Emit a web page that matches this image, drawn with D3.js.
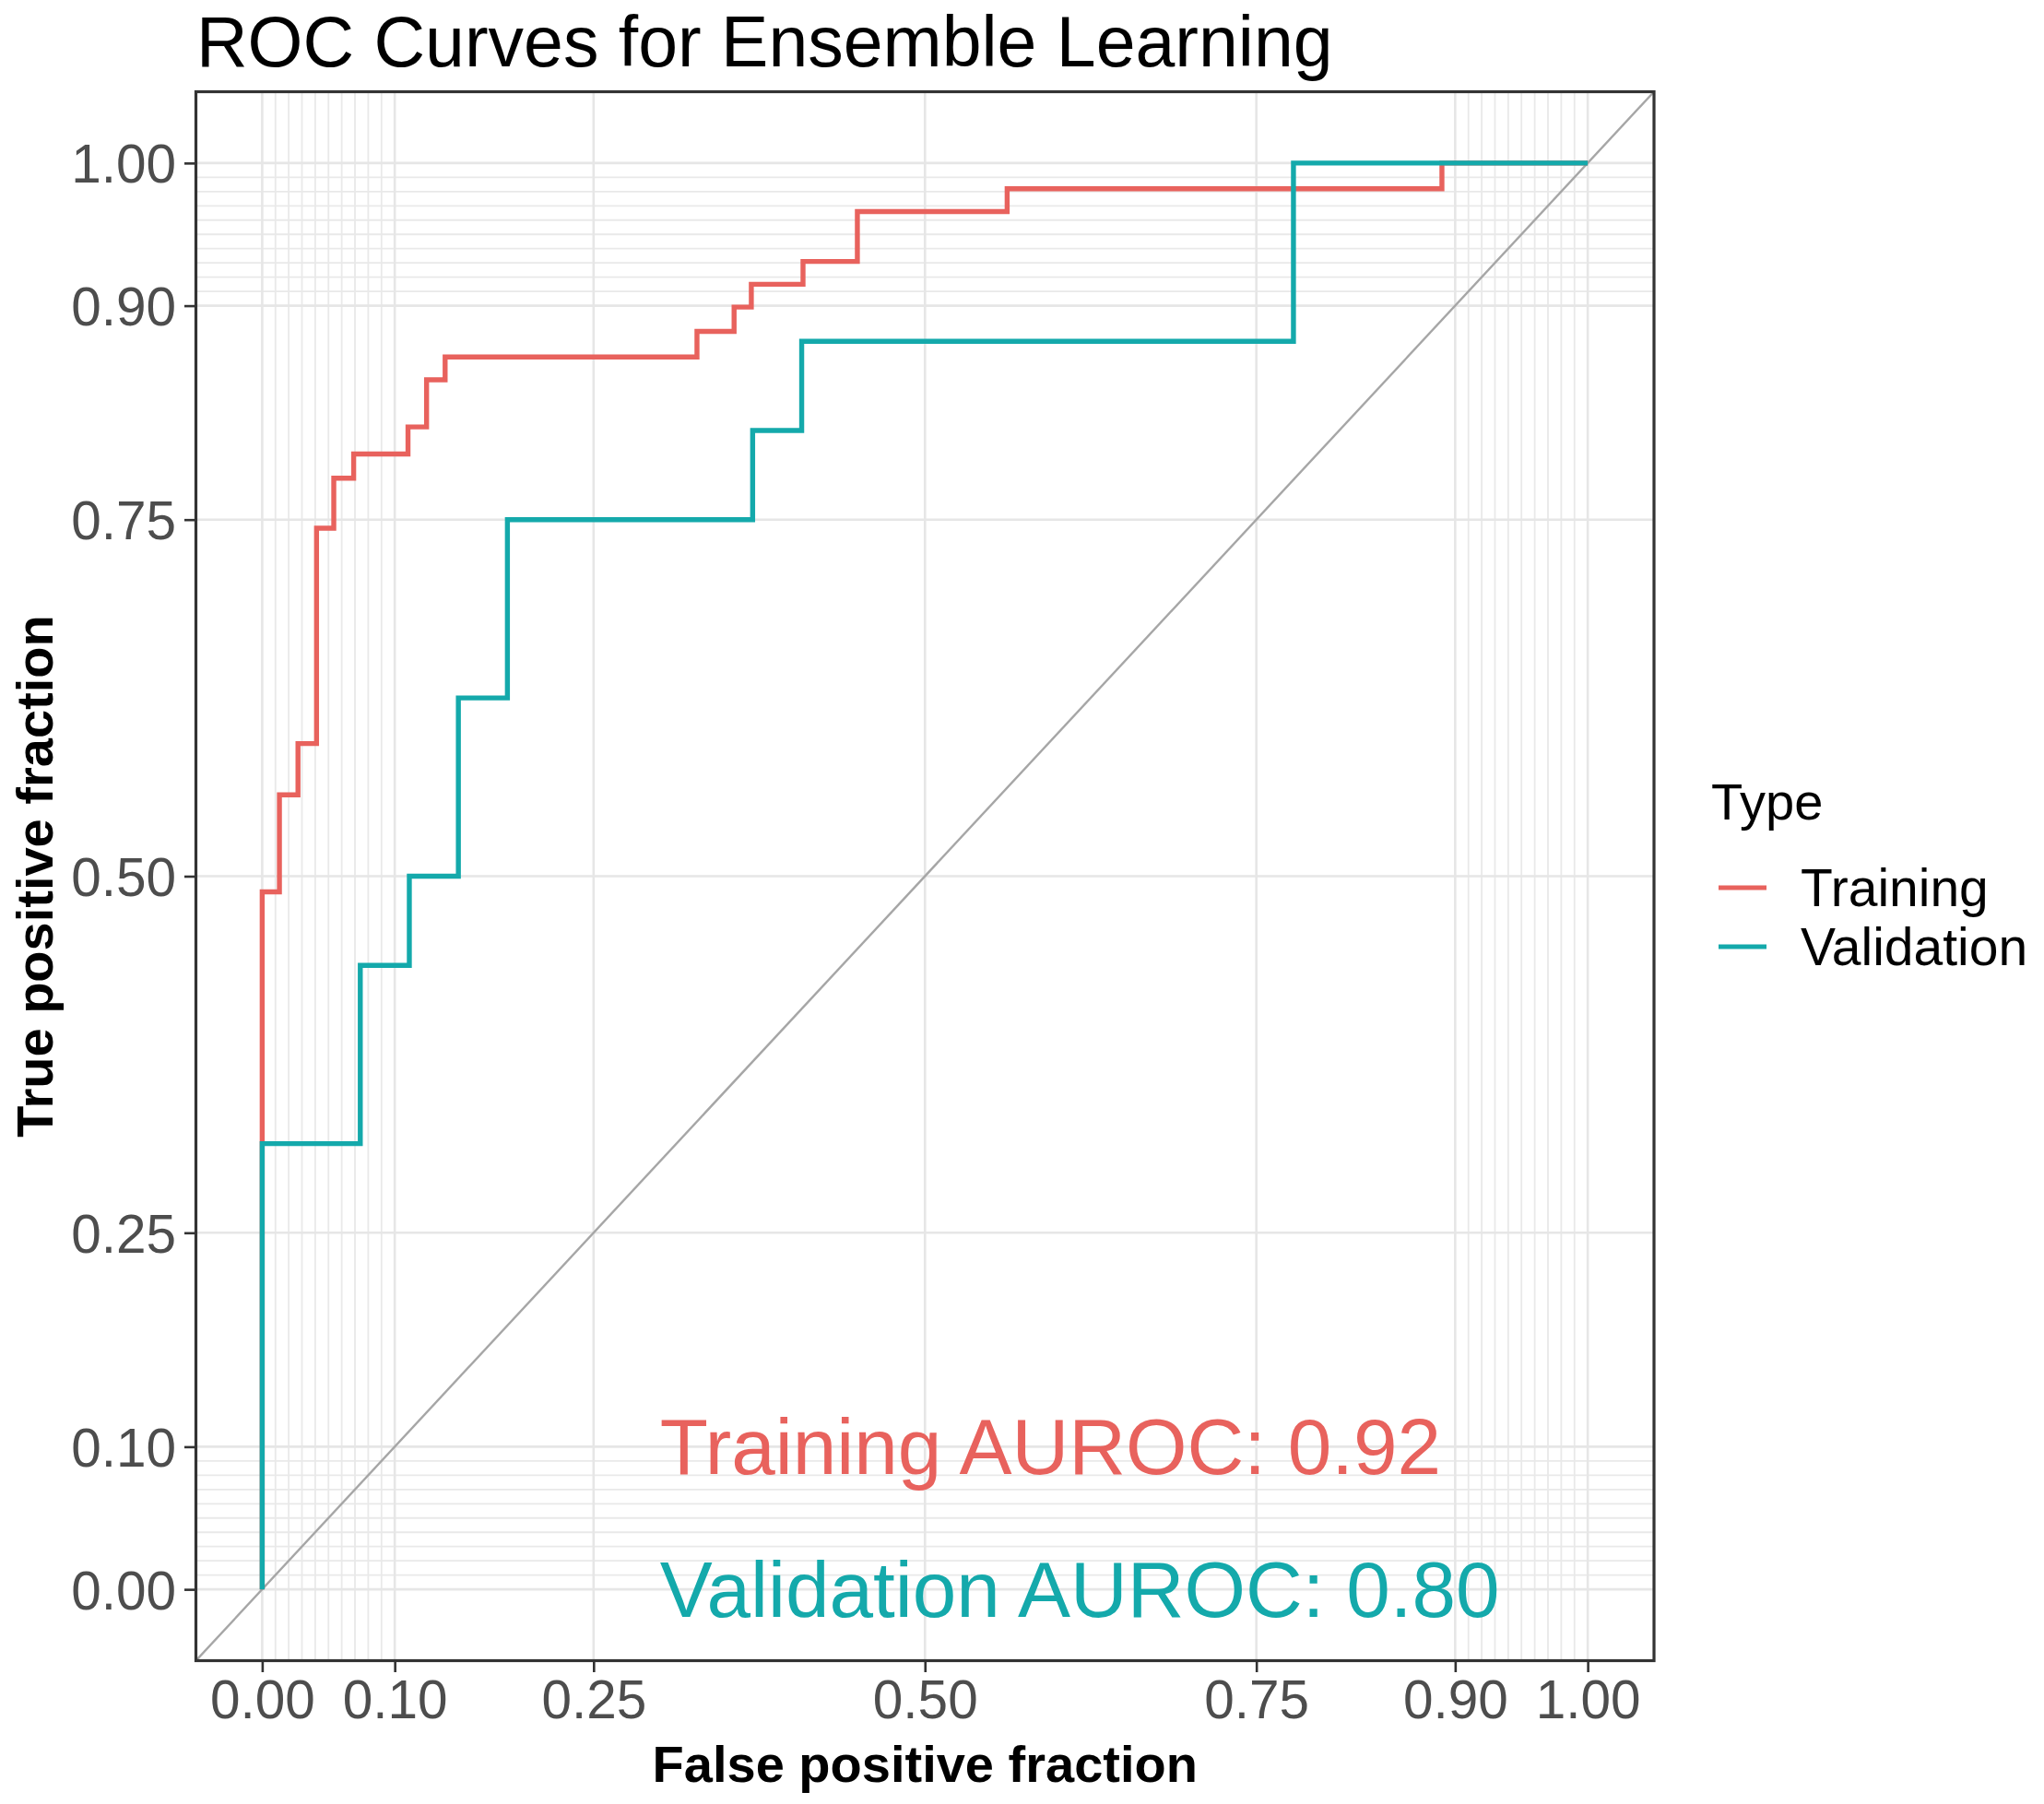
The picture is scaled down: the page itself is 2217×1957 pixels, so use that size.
<!DOCTYPE html>
<html>
<head>
<meta charset="utf-8">
<script src="https://cdn.jsdelivr.net/npm/d3@7"></script>
<style>
  html, body { margin: 0; padding: 0; background: #fff; }
  text { font-family: "Liberation Sans", Arial, sans-serif; }
</style>
</head>
<body>
<svg id="chart" width="2217" height="1957"></svg>
<script>
// ---------------- data ----------------
const seriesNames = ["Training", "Validation"];
const seriesColors = ["#E8625D", "#14A9AB"];

const trainingFPR = [0, 0, 0.013, 0.027, 0.041, 0.054, 0.069, 0.110, 0.124, 0.138, 0.328, 0.356, 0.369, 0.408, 0.449, 0.562, 0.890, 1.0];
const trainingTPR = [0, 0.489, 0.557, 0.593, 0.744, 0.779, 0.796, 0.815, 0.848, 0.864, 0.882, 0.899, 0.915, 0.931, 0.966, 0.982, 1.0, 1.0];

const validationFPR = [0, 0, 0.074, 0.111, 0.148, 0.185, 0.370, 0.407, 0.778, 1.0];
const validationTPR = [0, 0.3125, 0.4375, 0.5, 0.625, 0.75, 0.8125, 0.875, 1.0, 1.0];

const majorBreaks = [0, 0.1, 0.25, 0.5, 0.75, 0.9, 1];
const majorLabels = ["0.00", "0.10", "0.25", "0.50", "0.75", "0.90", "1.00"];
const minorBreaks = [0.01, 0.02, 0.03, 0.04, 0.05, 0.06, 0.07, 0.08, 0.09,
                     0.91, 0.92, 0.93, 0.94, 0.95, 0.96, 0.97, 0.98, 0.99];

const annotations = [
  { text: "Training AUROC: 0.92", x: 0.30, y: 0.10, series: 0 },
  { text: "Validation AUROC: 0.80", x: 0.30, y: 0.00, series: 1 }
];

const titleText = "ROC Curves for Ensemble Learning";
const xTitle = "False positive fraction";
const yTitle = "True positive fraction";
const legendTitle = "Type";

// ---------------- layout ----------------
const svg = d3.select("#chart");
const panel = { left: 212.5, right: 1794, top: 99.5, bottom: 1801.5 };

const x = d3.scaleLinear().domain([-0.05, 1.05]).range([panel.left, panel.right]);
const y = d3.scaleLinear().domain([-0.05, 1.05]).range([panel.bottom, panel.top]);

svg.append("rect").attr("width", 2217).attr("height", 1957).attr("fill", "#fff");

svg.append("defs").append("clipPath").attr("id", "clip")
  .append("rect")
  .attr("x", panel.left).attr("y", panel.top)
  .attr("width", panel.right - panel.left).attr("height", panel.bottom - panel.top);

const gridG = svg.append("g");
// minor grid
gridG.selectAll("line.vminor").data(minorBreaks).join("line")
  .attr("x1", d => x(d)).attr("x2", d => x(d))
  .attr("y1", panel.top).attr("y2", panel.bottom)
  .attr("stroke", "#E9E9E9").attr("stroke-width", 1.8);
gridG.selectAll("line.hminor").data(minorBreaks).join("line")
  .attr("y1", d => y(d)).attr("y2", d => y(d))
  .attr("x1", panel.left).attr("x2", panel.right)
  .attr("stroke", "#E9E9E9").attr("stroke-width", 1.8);
// major grid
gridG.selectAll("line.vmajor").data(majorBreaks).join("line")
  .attr("x1", d => x(d)).attr("x2", d => x(d))
  .attr("y1", panel.top).attr("y2", panel.bottom)
  .attr("stroke", "#E6E6E6").attr("stroke-width", 2.6);
gridG.selectAll("line.hmajor").data(majorBreaks).join("line")
  .attr("y1", d => y(d)).attr("y2", d => y(d))
  .attr("x1", panel.left).attr("x2", panel.right)
  .attr("stroke", "#E6E6E6").attr("stroke-width", 2.6);

const plotG = svg.append("g").attr("clip-path", "url(#clip)");

// diagonal reference line (abline slope 1)
plotG.append("line")
  .attr("x1", x(-0.05)).attr("y1", y(-0.05))
  .attr("x2", x(1.05)).attr("y2", y(1.05))
  .attr("stroke", "#A6A6A6").attr("stroke-width", 2.4);

const line = d3.line().x(d => x(d[0])).y(d => y(d[1])).curve(d3.curveStepAfter);
const seriesData = [
  d3.zip(trainingFPR, trainingTPR),
  d3.zip(validationFPR, validationTPR)
];
seriesData.forEach((pts, i) => {
  plotG.append("path")
    .datum(pts)
    .attr("d", line)
    .attr("fill", "none")
    .attr("stroke", seriesColors[i])
    .attr("stroke-width", 5.4)
    .attr("stroke-linejoin", "miter");
});

// annotations
svg.selectAll("text.annot").data(annotations).join("text")
  .attr("x", d => x(d.x))
  .attr("y", d => y(d.y))
  .attr("dy", "0.35em")
  .attr("font-size", 85.5)
  .attr("fill", d => seriesColors[d.series])
  .text(d => d.text);

// panel border
svg.append("rect")
  .attr("x", panel.left).attr("y", panel.top)
  .attr("width", panel.right - panel.left).attr("height", panel.bottom - panel.top)
  .attr("fill", "none").attr("stroke", "#333").attr("stroke-width", 3.2);

// axes
const xAxis = d3.axisBottom(x).tickValues(majorBreaks)
  .tickFormat((d, i) => majorLabels[i]).tickSize(11).tickPadding(8);
const yAxis = d3.axisLeft(y).tickValues(majorBreaks)
  .tickFormat((d, i) => majorLabels[i]).tickSize(11).tickPadding(9);

const gx = svg.append("g").attr("transform", `translate(0,${panel.bottom + 1.5})`).call(xAxis);
const gy = svg.append("g").attr("transform", `translate(${panel.left - 1.5},0)`).call(yAxis);
[gx, gy].forEach(g => {
  g.select(".domain").remove();
  g.selectAll(".tick line").attr("stroke", "#333").attr("stroke-width", 2.6);
  g.selectAll(".tick text")
    .attr("font-size", 58.5)
    .attr("fill", "#4D4D4D")
    .attr("font-family", "'Liberation Sans', Arial, sans-serif");
});
gy.selectAll(".tick text").attr("dy", "0.36em");

// titles
svg.append("text")
  .attr("x", 213).attr("y", 72)
  .attr("font-size", 77).attr("fill", "#000")
  .text(titleText);

svg.append("text")
  .attr("x", (panel.left + panel.right) / 2).attr("y", 1933)
  .attr("text-anchor", "middle")
  .attr("font-size", 56).attr("font-weight", "bold").attr("fill", "#000")
  .text(xTitle);

svg.append("text")
  .attr("transform", `translate(57,${(panel.top + panel.bottom) / 2}) rotate(-90)`)
  .attr("text-anchor", "middle")
  .attr("font-size", 56).attr("font-weight", "bold").attr("fill", "#000")
  .text(yTitle);

// legend
const legend = svg.append("g");
legend.append("text")
  .attr("x", 1856).attr("y", 889)
  .attr("font-size", 56).attr("fill", "#000")
  .text(legendTitle);
const legendRows = legend.selectAll("g.row").data(seriesNames).join("g")
  .attr("transform", (d, i) => `translate(0,${963 + i * 64})`);
legendRows.append("line")
  .attr("x1", 1864).attr("x2", 1916).attr("y1", 0).attr("y2", 0)
  .attr("stroke", (d, i) => seriesColors[i]).attr("stroke-width", 5);
legendRows.append("text")
  .attr("x", 1953).attr("y", 0).attr("dy", "0.35em")
  .attr("font-size", 57).attr("fill", "#000")
  .text(d => d);
</script>
</body>
</html>
